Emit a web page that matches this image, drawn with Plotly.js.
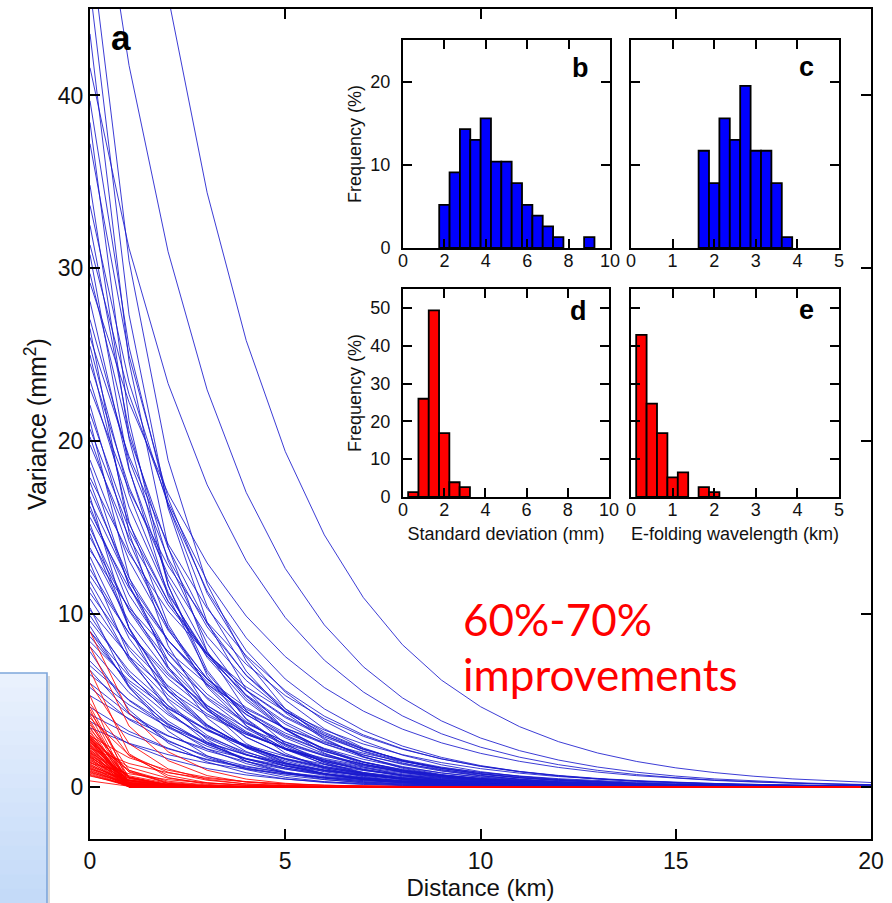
<!DOCTYPE html>
<html><head><meta charset="utf-8">
<script src="https://cdn.plot.ly/plotly-3.0.1.min.js"></script>
<style>html,body{margin:0;padding:0;background:#fff;}#chart{width:892px;height:903px;}</style>
</head><body><div id="chart"></div>
<script>
// ---- data ----
const distanceKm = [0,1,2,3,4,5,6,7,8,9,10,11,12,13,14,15,16,17,18,19,20];

// blue: standard deviation (mm) and e-folding wavelength (km) of each variance curve
const blueSigmaMm = [9.0,7.5,7.0,6.8,6.6,6.45,6.3,6.2,6.1,5.9, 5.8,5.7,5.6,5.55,5.45,5.4,5.3,5.2,5.15,5.1,
  5.05,5.0,4.95,4.85,4.8,4.7,4.65,4.6,4.55,4.5, 4.45,4.35,4.3,4.23,4.2,4.15,4.1,4.07,4.03,4.0,
  3.95,3.9,3.87,3.83,3.8,3.72,3.7,3.65,3.6,3.55, 3.5,3.45,3.4,3.35,3.3,3.22,3.2,3.15,3.1,3.05,
  3.0,3.0,2.95,2.9,2.85,2.8,2.7,2.65,2.6,2.55, 2.45,2.4,2.3,2.15,2.05,1.95,1.85];
const blueFoldKm = [3.5,3.35,2.1,1.9,1.75,3.46,2.25,1.68,2.5,1.83, 2.76,2.2,3.1,1.95,2.62,3.7,2.35,2.8,1.7,3.25,
  2.45,2.05,2.9,2.68,3.4,2.27,2.86,1.8,3.05,2.55, 3.17,2.72,2.16,3.55,2.42,2.83,1.65,3.0,2.31,2.75,
  3.28,2.0,2.6,2.14,2.93,2.7,3.6,2.29,1.86,2.87, 3.14,2.48,2.22,3.08,2.64,1.72,3.3,2.39,2.81,2.08,
  2.96,2.33,2.73,3.23,2.52,1.78,2.66,3.02,2.18,3.2, 2.85,2.57,3.43,2.78,3.12,2.37,3.33];

// red: standard deviation (mm) and e-folding wavelength (km) of each variance curve
const redSigmaMm = [3.0,2.85,2.6,2.45,2.3, 2.2,2.16,2.12,2.08,2.04,2.0,1.96,1.93,1.9,1.86,1.83,1.8,1.77,
  1.74,1.73,1.72,1.71,1.7,1.69,1.68,1.67,1.66,1.65, 1.64,1.63,1.62,1.61,1.6,1.58,1.56,1.55,1.54,1.52,
  1.51,1.5,1.48,1.46,1.45,1.44,1.42,1.41,1.4,1.38, 1.36,1.35,1.34,1.32,1.31,1.3,1.28,1.26,
  1.24,1.22,1.2,1.18,1.16,1.14,1.12,1.1,1.08,1.06, 1.04,1.02,1.0,0.97,0.95,0.92,0.9,0.86,0.83,0.8, 0.6];
const redFoldKm = [1.35,1.2,0.8,1.15,0.3, 1.02,0.45,0.25,0.67,0.2,1.3,0.38,0.28,0.55,0.17,0.74,0.32,0.5,
  0.23,0.6,1.8,0.26,0.86,0.19,0.41,0.31,0.96,0.27, 0.63,0.21,0.47,0.29,1.25,0.35,0.52,0.15,0.7,0.24,
  0.4,2.0,0.33,0.78,0.2,0.57,0.28,0.9,0.36,0.43, 0.65,0.22,0.3,0.54,0.82,0.16,0.46,0.27,
  0.72,0.25,0.39,1.7,0.31,0.59,0.18,0.84,0.29,0.48, 0.23,1.1,0.34,0.62,0.26,0.76,0.32,0.42,0.37,0.69, 0.51];

const mainXTicks = [0,5,10,15,20];
const mainYTicks = [0,10,20,30,40];
const sdTicks = [0,2,4,6,8,10];
const foldTicks = [0,1,2,3,4,5];
const freqTicksTop = [0,10,20];
const freqTicksBottom = [0,10,20,30,40,50];

// ---- geometry helpers (pixel -> plot fraction) ----
const PL=90, PR=871, PT=9, PB=839;
const fx = p => (p-PL)/(PR-PL);
const fy = p => (PB-p)/(PB-PT);
const FONT = 'Liberation Sans, Arial, Helvetica, sans-serif';

function curves(sig, lam, color){
  const xs=[], ys=[];
  for(let i=0;i<sig.length;i++){
    const v0 = sig[i]*sig[i];
    for(const d of distanceKm){ xs.push(d); ys.push(v0*Math.exp(-d/lam[i])); }
    xs.push(null); ys.push(null);
  }
  return {type:'scatter', mode:'lines', x:xs, y:ys, connectgaps:false,
    line:{color:color, width:0.85}, hoverinfo:'skip', xaxis:'x', yaxis:'y'};
}
function hist(vals, start, end, size, color, xa, ya){
  return {type:'histogram', x:vals, xbins:{start:start, end:end, size:size}, histnorm:'percent',
    marker:{color:color, line:{color:'#000', width:1.8}}, xaxis:xa, yaxis:ya, hoverinfo:'skip'};
}

const data = [
  curves(blueSigmaMm, blueFoldKm, 'rgb(25,25,205)'),
  curves(redSigmaMm, redFoldKm, 'rgb(255,0,0)'),
  hist(blueSigmaMm, 1.75, 9.25, 0.5, '#0000ff', 'x2', 'y2'),
  hist(blueFoldKm, 1.625, 3.875, 0.25, '#0000ff', 'x3', 'y3'),
  hist(redSigmaMm, 0.25, 3.25, 0.5, '#ff0000', 'x4', 'y4'),
  hist(redFoldKm, 0.125, 2.125, 0.25, '#ff0000', 'x5', 'y5')
];

const axBase = {showline:true, linecolor:'#000', linewidth:2, mirror:'ticks', ticks:'inside',
  tickcolor:'#000', tickwidth:2, showgrid:false, zeroline:false, fixedrange:true};
const mainTickFont = {family:FONT, size:23, color:'#111'};
const insetTickFont = {family:FONT, size:18, color:'#111'};
const insetTitleFont = {family:FONT, size:18, color:'#111'};

const bx=[fx(403),fx(610)], cx=[fx(631),fx(839)], dx=[fx(403),fx(609)], ex=[fx(631),fx(839)];
const topY=[fy(248),fy(40)], botY=[fy(497),fy(289)];

const insetX = {...axBase, ticklen:9, tickfont:insetTickFont, ticklabelstandoff:-5};
const insetY = {...axBase, ticklen:9, tickfont:insetTickFont, ticklabelstandoff:7};

function label(px, py, txt, size){
  return {xref:'paper', yref:'paper', x:fx(px), y:fy(py), xanchor:'center', yanchor:'middle',
    text:'<b>'+txt+'</b>', showarrow:false, font:{family:FONT, size:size, color:'#000'}};
}

const layout = {
  width:892, height:903, margin:{l:PL, r:892-PR, t:PT, b:903-PB},
  paper_bgcolor:'#fff', plot_bgcolor:'#fff', showlegend:false, hovermode:false, bargap:0,
  xaxis:{...axBase, domain:[0,1], range:[0,20], tickvals:mainXTicks, ticklen:10, tickfont:mainTickFont,
    title:{text:'Distance (km)', font:{family:FONT, size:24, color:'#111'}, standoff:5}},
  yaxis:{...axBase, domain:[0,1], range:[-3,45], tickvals:mainYTicks, ticklen:10, tickfont:mainTickFont,
    title:{text:'Variance (mm<sup>2</sup>)', font:{family:FONT, size:25, color:'#111'}, standoff:4}},
  xaxis2:{...insetX, anchor:'y2', domain:bx, range:[0,10], tickvals:sdTicks},
  yaxis2:{...insetY, anchor:'x2', domain:topY, range:[0,25], tickvals:freqTicksTop,
    title:{text:'Frequency (%)', font:insetTitleFont, standoff:4}},
  xaxis3:{...insetX, anchor:'y3', domain:cx, range:[0,5], tickvals:foldTicks},
  yaxis3:{...insetY, anchor:'x3', domain:topY, range:[0,25], tickvals:freqTicksTop, showticklabels:false},
  xaxis4:{...insetX, anchor:'y4', domain:dx, range:[0,10], tickvals:sdTicks,
    title:{text:'Standard deviation (mm)', font:insetTitleFont, standoff:9}},
  yaxis4:{...insetY, anchor:'x4', domain:botY, range:[0,55], tickvals:freqTicksBottom,
    title:{text:'Frequency (%)', font:insetTitleFont, standoff:4}},
  xaxis5:{...insetX, anchor:'y5', domain:ex, range:[0,5], tickvals:foldTicks,
    title:{text:'E-folding wavelength (km)', font:insetTitleFont, standoff:9}},
  yaxis5:{...insetY, anchor:'x5', domain:botY, range:[0,55], tickvals:freqTicksBottom, showticklabels:false},
  annotations:[
    label(121, 38, 'a', 35),
    label(580, 68, 'b', 27),
    label(806, 67, 'c', 27),
    label(578, 311, 'd', 27),
    label(806, 310, 'e', 27),
    {xref:'paper', yref:'paper', x:fx(461), y:fy(619), xanchor:'left', yanchor:'middle', text:'60%-70%', showarrow:false,
      font:{family:'Lato, Open Sans, sans-serif', size:44, color:'#ff0000'}},
    {xref:'paper', yref:'paper', x:fx(461), y:fy(674), xanchor:'left', yanchor:'middle', text:'improvements', showarrow:false,
      font:{family:'Lato, Open Sans, sans-serif', size:44, color:'#ff0000'}}
  ],
  shapes:[]
};

// light blue callout box at lower left (vertical gradient approximated by strips)
const boxTop=673, boxBot=903, boxL=0, boxR=47, strips=16;
for(let i=0;i<strips;i++){
  const t=i/(strips-1);
  const r=Math.round(233+(196-233)*t), g=Math.round(241+(218-241)*t), b=Math.round(253+(248-253)*t);
  const y0=boxTop+(boxBot-boxTop)*i/strips, y1=boxTop+(boxBot-boxTop)*(i+1)/strips;
  layout.shapes.push({type:'rect', xref:'paper', yref:'paper', x0:fx(boxL), x1:fx(boxR), y0:fy(y1)-0.001, y1:fy(y0),
    fillcolor:`rgb(${r},${g},${b})`, line:{width:0}, layer:'above'});
}
layout.shapes.push({type:'rect', xref:'paper', yref:'paper', x0:fx(boxR+0.5), x1:fx(boxR+3), y0:fy(boxBot), y1:fy(boxTop+3),
  fillcolor:'rgba(150,150,150,0.35)', line:{width:0}, layer:'above'});
layout.shapes.push({type:'rect', xref:'paper', yref:'paper', x0:fx(boxL-5), x1:fx(boxR), y0:fy(boxBot+5), y1:fy(boxTop),
  fillcolor:'rgba(0,0,0,0)', line:{color:'#7ea6da', width:1.6}, layer:'above'});

Plotly.newPlot('chart', data, layout, {staticPlot:true, displayModeBar:false});
</script></body></html>
